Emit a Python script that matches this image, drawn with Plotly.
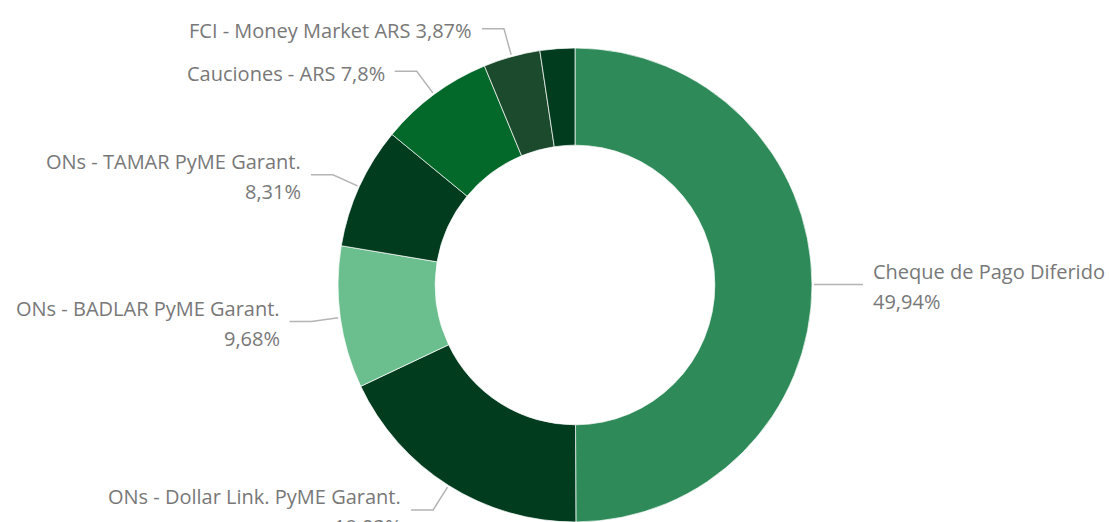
import math
import plotly.graph_objects as go

# Portfolio composition (% of total)
categories = [
    "Cheque de Pago Diferido",
    "ONs - Dollar Link. PyME Garant.",
    "ONs - BADLAR PyME Garant.",
    "ONs - TAMAR PyME Garant.",
    "Cauciones - ARS",
    "FCI - Money Market ARS",
    "Otros",
]
shares = [49.94, 18.03, 9.68, 8.31, 7.80, 3.87, 2.37]
slice_colors = ["#2e8a58", "#013c1f", "#6bbf8e", "#013c1f", "#03692b", "#1b4a2d", "#013c1f"]

W, H = 1109, 522
CX = 575            # donut centre, px from left
R = 237             # outer radius, px
CY = H - R          # donut centre, px from top
HOLE = 0.59
FONT = "Segoe UI, Open Sans, sans-serif"
TEXT_COLOR = "#787878"
LINE_COLOR = "#b4b4b4"


def fmt_pct(v):
    s = f"{v:.2f}".rstrip("0").rstrip(".")
    return s.replace(".", ",") + "%"


def to_paper(px, py):
    return px / W, 1 - py / H


fig = go.Figure(
    go.Pie(
        labels=categories,
        values=shares,
        hole=HOLE,
        sort=False,
        direction="clockwise",
        rotation=0,
        textinfo="none",
        marker=dict(colors=slice_colors, line=dict(color="rgba(255,255,255,0.7)", width=1)),
        domain=dict(x=[(CX - R) / W, (CX + R) / W], y=[0, 2 * R / H]),
        hoverinfo="label+percent",
    )
)

shapes, annotations = [], []
total = sum(shares)
cum = 0.0
for name, v in zip(categories, shares):
    mid = 2 * math.pi * (cum + v / 2) / total
    cum += v
    if v < 3:
        continue
    s, c = math.sin(mid), math.cos(mid)
    x0, y0 = CX + (R + 2) * s, CY - (R + 2) * c
    x1, y1 = CX + (R + 29) * s, CY - (R + 29) * c
    side = 1 if s >= 0 else -1
    x2 = x1 + side * 22
    p0, p1, p2 = to_paper(x0, y0), to_paper(x1, y1), to_paper(x2, y1)
    shapes.append(dict(
        type="path", xref="paper", yref="paper",
        path=f"M {p0[0]},{p0[1]} L {p1[0]},{p1[1]} L {p2[0]},{p2[1]}",
        line=dict(color=LINE_COLOR, width=1.5),
    ))
    full = f"{name} {fmt_pct(v)}"
    lines = [full] if len(full) <= 28 else [name, fmt_pct(v)]
    step = 30
    top = y1 + 2 - step * (len(lines) - 1) / 2
    for i, ln in enumerate(lines):
        ax, ay = to_paper(x2 + side * 8, top + i * step)
        annotations.append(dict(
            x=ax, y=ay, xref="paper", yref="paper", text=ln, showarrow=False,
            xanchor="left" if side > 0 else "right", yanchor="middle",
            font=dict(family=FONT, size=20, color=TEXT_COLOR),
        ))

fig.update_layout(
    width=W, height=H,
    margin=dict(l=0, r=0, t=0, b=0),
    paper_bgcolor="white",
    plot_bgcolor="white",
    showlegend=False,
    shapes=shapes,
    annotations=annotations,
)

fig.write_html("out.html")
